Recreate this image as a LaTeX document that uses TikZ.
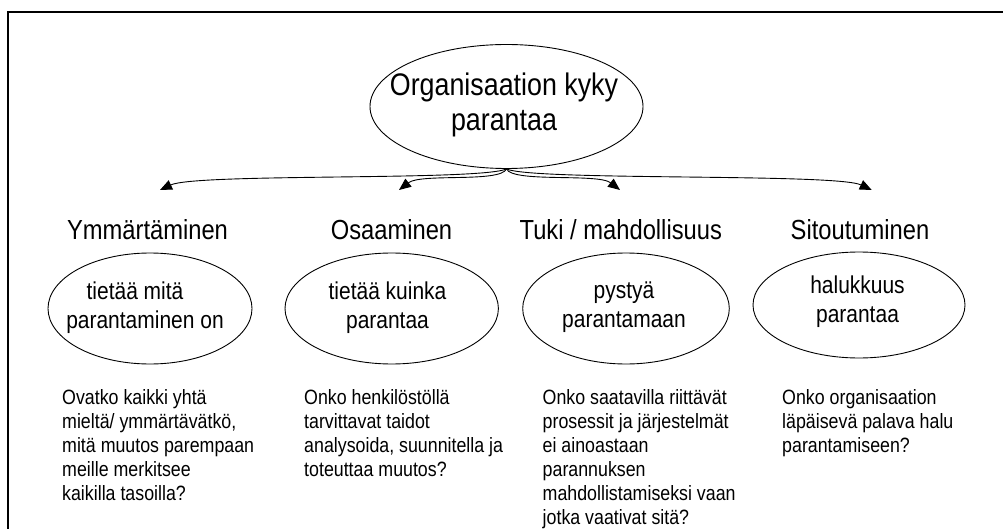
\documentclass[tikz,border=0pt]{standalone}
\usepackage{fontspec}
\setmainfont{Liberation Sans}[FakeStretch=0.86]
\usetikzlibrary{arrows.meta,shapes.geometric}

\begin{document}
\begin{tikzpicture}[x=1pt,y=-1pt,
  bubble/.style={draw, ellipse, line width=0.9pt, inner sep=0pt},
  title/.style={font=\fontsize{31.2}{35}\selectfont, align=center, inner sep=0pt, anchor=north},
  heading/.style={font=\fontsize{27.6}{30}\selectfont, inner sep=0pt, anchor=base},
  bubbletext/.style={font=\fontsize{24.4}{29}\selectfont, align=center, inner sep=0pt, anchor=north},
  note/.style={font=\fontsize{20.7}{24}\selectfont, align=left, inner sep=0pt, anchor=north west},
  link/.style={line width=0.9pt, -{Triangle[length=12pt,width=10pt]}},
  frame/.style={line width=2pt}]
\useasboundingbox (0,0) rectangle (1003,529);

% open frame: top and left edges only
\draw[frame] (8,545) -- (8,12) -- (1020,12);

% central idea
\node[bubble, minimum width=273pt, minimum height=124pt] (core) at (506.5,106.5) {};
\node[title] (coretext) at (504,72.2) {Organisaation kyky\\parantaa};

% four dimensions
\node[heading] (h1) at (147.5,240) {Ymmärtäminen};
\node[heading] (h2) at (391.5,240) {Osaaminen};
\node[heading] (h3) at (620.8,240) {Tuki / mahdollisuus};
\node[heading] (h4) at (860,240) {Sitoutuminen};

% arrow tips above the headings
\coordinate (a1) at (160,190);
\coordinate (a2) at (399,190);
\coordinate (a3) at (620,190);
\coordinate (a4) at (871.7,190);

\draw[link] (core.south) .. controls (480,181) and (196,173) .. (a1);
\draw[link] (core.south) .. controls (500,183) and (421,173) .. (a2);
\draw[link] (core.south) .. controls (513,183) and (598,173) .. (a3);
\draw[link] (core.south) .. controls (533,181) and (836,173) .. (a4);

% ellipses with short descriptions
\node[bubble, minimum width=204pt, minimum height=111pt] (b1) at (150,308.5) {};
\node[bubble, minimum width=213.4pt, minimum height=111pt] (b2) at (391.7,308.5) {};
\node[bubble, minimum width=206.6pt, minimum height=111pt] (b3) at (626,308.5) {};
\node[bubble, minimum width=212pt, minimum height=106pt] (b4) at (859,305) {};

\node[bubbletext] (t1) at (145,281.2) {tietää mitä\hspace*{20pt}\\parantaminen on};
\node[bubbletext] (t2) at (387.5,281.2) {tietää kuinka\\parantaa};
\node[bubbletext] (t3) at (624,281.2) {pystyä\\parantamaan};
\node[bubbletext] (t4) at (857.5,275.2) {halukkuus\\parantaa};

% guiding questions
\node[note] (n1) at (62,389.7) {Ovatko kaikki yhtä\\mieltä/ ymmärtävätkö,\\mitä muutos parempaan\\meille merkitsee\\kaikilla tasoilla?};
\node[note] (n2) at (304,389.7) {Onko henkilöstöllä\\tarvittavat taidot\\analysoida, suunnitella ja\\toteuttaa muutos?};
\node[note] (n3) at (542.5,389.7) {Onko saatavilla riittävät\\prosessit ja järjestelmät\\ei ainoastaan\\parannuksen\\mahdollistamiseksi vaan\\jotka vaativat sitä?};
\node[note] (n4) at (782,389.7) {Onko organisaation\\läpäisevä palava halu\\parantamiseen?};
\end{tikzpicture}
\end{document}
